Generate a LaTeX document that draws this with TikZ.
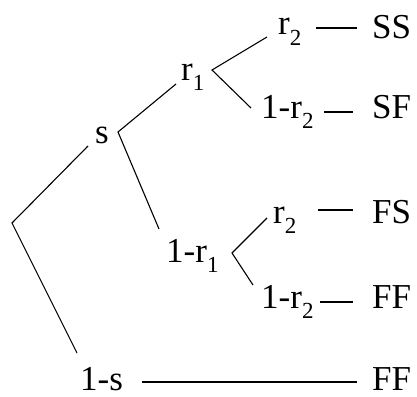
\documentclass[tikz,border=0pt]{standalone}
\usepackage{fontspec}
\setmainfont{Liberation Serif}
\newfontfamily\tms{Liberation Serif}
\newcommand\subs[1]{\raisebox{-0.3em}{\fontsize{23}{23}\selectfont #1}}
\begin{document}
\begin{tikzpicture}[x=1pt,y=-1pt,
  lbl/.style={anchor=base west,inner sep=0pt,font=\tms\fontsize{35}{38}\selectfont},
  edge/.style={line width=1.1pt}]
\useasboundingbox (0,0) rectangle (417,396);
% labels
\node[lbl] (s) at (95,143) {s};
\node[lbl] (r1) at (181,80) {r\subs{1}};
\node[lbl] (r2a) at (278,35) {r\subs{2}};
\node[lbl] (SS) at (372,38) {SS};
\node[lbl] (nr2a) at (261,118) {1-r\subs{2}};
\node[lbl] (SF) at (372,118) {SF};
\node[lbl] (nr1) at (166,262) {1-r\subs{1}};
\node[lbl] (r2b) at (273,223) {r\subs{2}};
\node[lbl] (FS) at (372,223) {FS};
\node[lbl] (nr2b) at (261,308) {1-r\subs{2}};
\node[lbl] (FF1) at (372,308) {FF};
\node[lbl] (ns) at (80,390) {1-s};
\node[lbl] (FF2) at (372,390) {FF};
% branch points and ends
\coordinate (root) at (12,223);
\coordinate (sEnd) at (88,146);
\coordinate (nsEnd) at (77,353);
\coordinate (sB) at (118,132);
\coordinate (r1End) at (176,84);
\coordinate (nr1End) at (159,229);
\coordinate (r1B) at (212,70);
\coordinate (r2aEnd) at (267,37);
\coordinate (nr2aEnd) at (251,108);
\coordinate (nr1B) at (232,253);
\coordinate (r2bEnd) at (267,218);
\coordinate (nr2bEnd) at (253,285);
\draw[edge] (sEnd) -- (root) -- (nsEnd);
\draw[edge] (r1End) -- (sB) -- (nr1End);
\draw[edge] (r2aEnd) -- (r1B) -- (nr2aEnd);
\draw[edge] (r2bEnd) -- (nr1B) -- (nr2bEnd);
% dashes
\coordinate (d1a) at (316,28); \coordinate (d1b) at (357,28);
\coordinate (d2a) at (324,112); \coordinate (d2b) at (353,112);
\coordinate (d3a) at (318,210); \coordinate (d3b) at (353,210);
\coordinate (d4a) at (320,302); \coordinate (d4b) at (353,302);
\coordinate (d5a) at (142,382); \coordinate (d5b) at (357,382);
\draw[edge] (d1a) -- (d1b);
\draw[edge] (d2a) -- (d2b);
\draw[edge] (d3a) -- (d3b);
\draw[edge] (d4a) -- (d4b);
\draw[edge] (d5a) -- (d5b);
\end{tikzpicture}
\end{document}
